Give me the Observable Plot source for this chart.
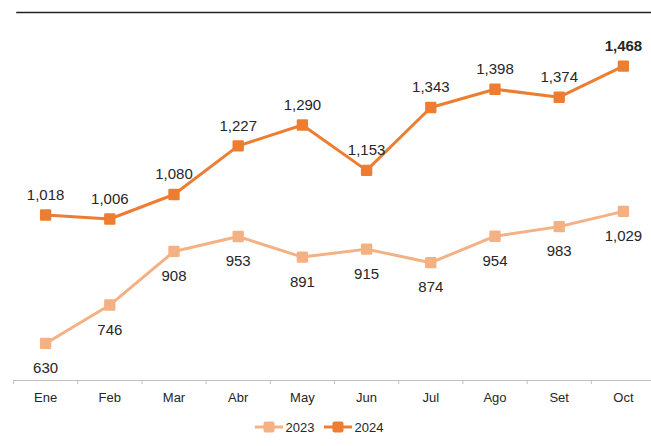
<!DOCTYPE html>
<html>
<head>
<meta charset="utf-8">
<script src="https://cdn.jsdelivr.net/npm/d3@7"></script>
<script src="https://cdn.jsdelivr.net/npm/@observablehq/plot@0.6"></script>
<style>
  html, body { margin: 0; padding: 0; background: #fff; }
  body { width: 651px; height: 446px; overflow: hidden; font-family: "Liberation Sans", Arial, sans-serif; }
  #legend { display: flex; justify-content: center; gap: 8px; margin-top: 7px; height: 20px; align-items: center; font-size: 13px; color: #262626; padding-right: 14px; }
  #legend .item { display: flex; align-items: center; gap: 2px; }
</style>
</head>
<body>
<div id="chart"></div>
<div id="legend"></div>
<script>
const months = ["Ene","Feb","Mar","Abr","May","Jun","Jul","Ago","Set","Oct"];
const v2023 = [630,746,908,953,891,915,874,954,983,1029];
const v2024 = [1018,1006,1080,1227,1290,1153,1343,1398,1374,1468];
const seriesNames = ["2023","2024"];
const colors = {"2023": "#F4B183", "2024": "#ED7D31"};
const yDomain = [518, 1630];

const data = [];
months.forEach((m, i) => {
  data.push({i, month: m, series: "2023", value: v2023[i]});
  data.push({i, month: m, series: "2024", value: v2024[i]});
});
const d23 = data.filter(d => d.series === "2023");
const d24 = data.filter(d => d.series === "2024");
const maxV = d3.max(v2024);
const d24max = d24.filter(d => d.value === maxV);
const d24rest = d24.filter(d => d.value !== maxV);
const boundaries = d3.range(months.length + 1).map(k => k - 0.5);
const fmt = d3.format(",");

const chart = Plot.plot({
  width: 651,
  height: 410,
  marginTop: 0,
  marginBottom: 30,
  marginLeft: 13,
  marginRight: 0,
  x: {type: "linear", domain: [-0.5, months.length - 0.5], range: [13, 655], label: null},
  y: {domain: yDomain, range: [380, 12], axis: null},
  style: {fontFamily: "'Liberation Sans', Arial, sans-serif", background: "#fff", overflow: "visible"},
  marks: [
    Plot.ruleY([yDomain[1]], {x1: -0.45, x2: months.length, stroke: "#222", strokeWidth: 1.5}),
    Plot.ruleY([yDomain[0]], {x1: -0.5, x2: months.length, stroke: "#c0c0c0", strokeWidth: 1.2}),
    Plot.axisX({ticks: boundaries, tickSize: 4, tickFormat: () => "", stroke: "#c0c0c0", label: null}),
    Plot.axisX({ticks: d3.range(months.length), tickSize: 0, tickPadding: 12, tickFormat: i => months[i], fontSize: 13, fill: "#262626", label: null}),
    Plot.line(d23, {x: "i", y: "value", stroke: colors["2023"], strokeWidth: 3}),
    Plot.line(d24, {x: "i", y: "value", stroke: colors["2024"], strokeWidth: 3}),
    Plot.dot(data, {x: "i", y: "value", symbol: "square", r: 5, fill: d => colors[d.series], stroke: d => colors[d.series], strokeWidth: 2.5, strokeLinejoin: "round"}),
    Plot.text(d23, {x: "i", y: "value", text: d => fmt(d.value), dy: 25, fontSize: 15, fill: "#262626"}),
    Plot.text(d24rest, {x: "i", y: "value", text: d => fmt(d.value), dy: -20, fontSize: 15, fill: "#262626"}),
    Plot.text(d24max, {x: "i", y: "value", text: d => fmt(d.value), dy: -20, fontSize: 15, fill: "#262626", fontWeight: "bold"})
  ]
});
document.getElementById("chart").appendChild(chart);

const legend = document.getElementById("legend");
seriesNames.forEach(s => {
  const item = document.createElement("div");
  item.className = "item";
  item.innerHTML = `<svg width="30" height="14"><line x1="1" y1="7" x2="29" y2="7" stroke="${colors[s]}" stroke-width="3"/><rect x="9.5" y="1.5" width="11" height="11" rx="2" fill="${colors[s]}"/></svg><span>${s}</span>`;
  legend.appendChild(item);
});
</script>
</body>
</html>
